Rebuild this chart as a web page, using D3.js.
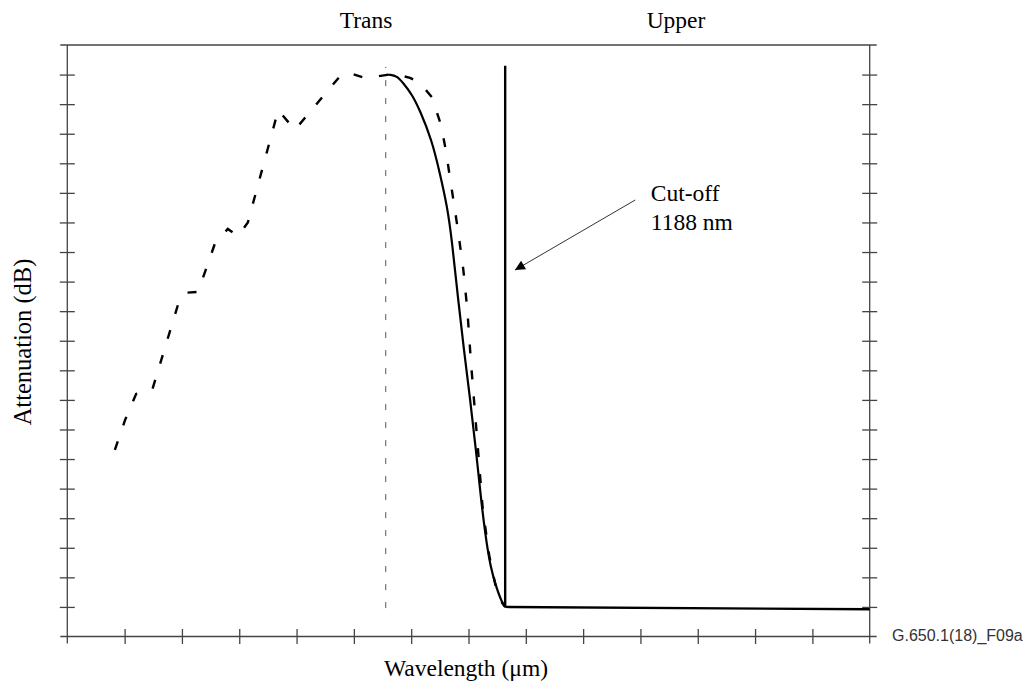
<!DOCTYPE html>
<meta charset="utf-8">
<script src="https://cdn.jsdelivr.net/npm/d3@7"></script>
<style>
    body { margin: 0; background: #fff; }
    text { font-family: "Liberation Serif", "Times New Roman", serif; fill: #000; }
</style>
<svg width="1027" height="692"></svg>
<script>
    // values, in grid units (x: 0..14 ticks, y: 0..20 ticks)
    var xTicks = [1, 2, 3, 4, 5, 6, 7, 8, 9, 10, 11, 12, 13];
    var yTicks = [1, 2, 3, 4, 5, 6, 7, 8, 9, 10, 11, 12, 13, 14, 15, 16, 17, 18, 19];

    // dashed curve (lower wavelength measurement)
    var dashedX = [0.83, 1.01, 1.20, 1.48, 1.93, 2.05, 2.28, 2.58, 2.80, 2.98, 3.15, 3.68, 3.97, 4.79, 4.90,
        5.21, 5.58, 5.77, 5.98, 6.15, 6.36, 6.52, 6.61, 6.68, 6.75, 6.82, 6.91, 6.98, 7.04, 7.11, 7.18,
        7.25, 7.36, 7.48, 7.59, 7.64];
    var dashedY = [6.31, 7.33, 8.20, 8.33, 11.21, 11.62, 11.65, 13.31, 13.78, 13.54, 14.0, 17.80, 17.13, 19.02, 19.06,
        18.88, 18.99, 18.99, 18.89, 18.72, 18.24, 17.30, 16.38, 15.47, 14.59, 13.68, 12.40, 11.04, 9.35, 7.66, 5.97,
        4.28, 2.76, 1.64, 1.13, 1.00];

    // solid curve
    var solidX = [5.57, 5.63, 5.75, 5.86, 6.02, 6.15, 6.36, 6.50, 6.63, 6.71, 6.82, 6.92, 7.03, 7.13, 7.22,
        7.29, 7.38, 7.50, 7.59, 7.64];
    var solidY = [18.99, 19.00, 18.95, 18.72, 18.31, 17.80, 16.79, 15.67, 14.53, 13.41, 11.38, 9.69, 8.00, 6.31, 4.62,
        3.50, 2.35, 1.57, 1.13, 1.00];

    // cut-off line and floor
    var cutoffX = 7.64;
    var cutoffY = [1.00, 19.30];
    var floorX = [7.64, 14];
    var floorY = [1.00, 0.92];

    // thin dashed marker line
    var markX = 5.556;
    var markY = [0.96, 19.26];

    // annotation arrow (from, to) and label
    var arrowX = [9.91, 7.81];
    var arrowY = [14.76, 12.39];
    var labelPos = [10.18, 14.72];
    var labelLines = ["Cut-off", "1188 nm"];

    var svg = d3.select("svg");

    var x = d3.scaleLinear().domain([0, 14]).range([67.3, 869.7]);
    var y = d3.scaleLinear().domain([0, 20]).range([636.5, 45]);

    var axisColor = "#444";
    var fs = "23.5px";

    // frame lines, extended a little past the corners
    var frame = svg.append("g").attr("stroke", axisColor).attr("stroke-width", 1.3);
    frame.append("line").attr("x1", x(0) - 7).attr("x2", x(14) + 7).attr("y1", y(20)).attr("y2", y(20));
    frame.append("line").attr("x1", x(0) - 7).attr("x2", x(14) + 7).attr("y1", y(0)).attr("y2", y(0));
    frame.append("line").attr("x1", x(0)).attr("x2", x(0)).attr("y1", y(20)).attr("y2", y(0) + 7);
    frame.append("line").attr("x1", x(14)).attr("x2", x(14)).attr("y1", y(20)).attr("y2", y(0) + 7);

    // ticks crossing the axes
    function crossTicks(g) {
        g.select(".domain").remove();
        g.selectAll(".tick line").attr("stroke", axisColor).attr("stroke-width", 1.3);
    }

    svg.append("g")
        .attr("transform", "translate(0," + y(0) + ")")
        .call(d3.axisBottom(x).tickValues(xTicks).tickSize(7.5).tickFormat(""))
        .call(crossTicks)
        .selectAll(".tick line").attr("y1", -7.5);

    svg.append("g")
        .attr("transform", "translate(" + x(0) + ",0)")
        .call(d3.axisLeft(y).tickValues(yTicks).tickSize(7.5).tickFormat(""))
        .call(crossTicks)
        .selectAll(".tick line").attr("x1", 7.5);

    svg.append("g")
        .attr("transform", "translate(" + x(14) + ",0)")
        .call(d3.axisRight(y).tickValues(yTicks).tickSize(7.5).tickFormat(""))
        .call(crossTicks)
        .selectAll(".tick line").attr("x1", -7.5);

    var line = d3.line()
        .x(function (d) { return x(d[0]); })
        .y(function (d) { return y(d[1]); });

    // thin dashed marker
    svg.append("path")
        .attr("d", line([[markX, markY[0]], [markX, markY[1]]]))
        .attr("stroke", "#555")
        .attr("stroke-width", 1)
        .attr("stroke-dasharray", "6,12")
        .attr("fill", "none");

    // dashed curve
    svg.append("path")
        .attr("d", line(dashedX.map(function (v, i) { return [v, dashedY[i]]; })))
        .attr("stroke", "#000")
        .attr("stroke-width", 2.4)
        .attr("stroke-dasharray", "9,17")
        .attr("fill", "none");

    // solid curve
    svg.append("path")
        .attr("d", d3.line()
            .x(function (d) { return x(d[0]); })
            .y(function (d) { return y(d[1]); })
            .curve(d3.curveBasis)(solidX.map(function (v, i) { return [v, solidY[i]]; })))
        .attr("stroke", "#000")
        .attr("stroke-width", 2.2)
        .attr("fill", "none");

    // cut-off vertical and floor
    svg.append("path")
        .attr("d", line([[cutoffX, cutoffY[1]], [cutoffX, cutoffY[0]]]))
        .attr("stroke", "#000")
        .attr("stroke-width", 2.4)
        .attr("fill", "none");

    svg.append("path")
        .attr("d", line(floorX.map(function (v, i) { return [v, floorY[i]]; })))
        .attr("stroke", "#000")
        .attr("stroke-width", 2.4)
        .attr("fill", "none");

    // arrow
    svg.append("defs").append("marker")
        .attr("id", "head")
        .attr("viewBox", "0 0 10 10")
        .attr("refX", 10).attr("refY", 5)
        .attr("markerWidth", 12).attr("markerHeight", 10)
        .attr("markerUnits", "userSpaceOnUse")
        .attr("orient", "auto")
        .append("path").attr("d", "M0,0L10,5L0,10Z").attr("fill", "#000");

    svg.append("path")
        .attr("d", line(arrowX.map(function (v, i) { return [v, arrowY[i]]; })))
        .attr("stroke", "#333")
        .attr("stroke-width", 1)
        .attr("marker-end", "url(#head)");

    var lbl = svg.append("text")
        .attr("x", x(labelPos[0]))
        .attr("y", y(labelPos[1]))
        .style("font-size", fs);
    lbl.selectAll("tspan").data(labelLines).enter().append("tspan")
        .attr("x", x(labelPos[0]))
        .attr("dy", function (d, i) { return i ? 29 : 0; })
        .text(function (d) { return d; });

    // region labels
    svg.append("text").attr("x", 366).attr("y", 28).attr("text-anchor", "middle")
        .style("font-size", fs).text("Trans");
    svg.append("text").attr("x", 676).attr("y", 28).attr("text-anchor", "middle")
        .style("font-size", fs).text("Upper");

    // axis titles
    svg.append("text").attr("x", 466).attr("y", 676).attr("text-anchor", "middle")
        .style("font-size", fs).text("Wavelength (μm)");
    svg.append("text").attr("transform", "translate(31,342) rotate(-90)").attr("text-anchor", "middle")
        .style("font-size", "24.5px").text("Attenuation (dB)");

    // figure id
    svg.append("text").attr("x", 892).attr("y", 641)
        .style("font-family", "'Liberation Sans', Arial, sans-serif")
        .style("font-size", "16px").style("fill", "#333")
        .text("G.650.1(18)_F09a");
</script>
